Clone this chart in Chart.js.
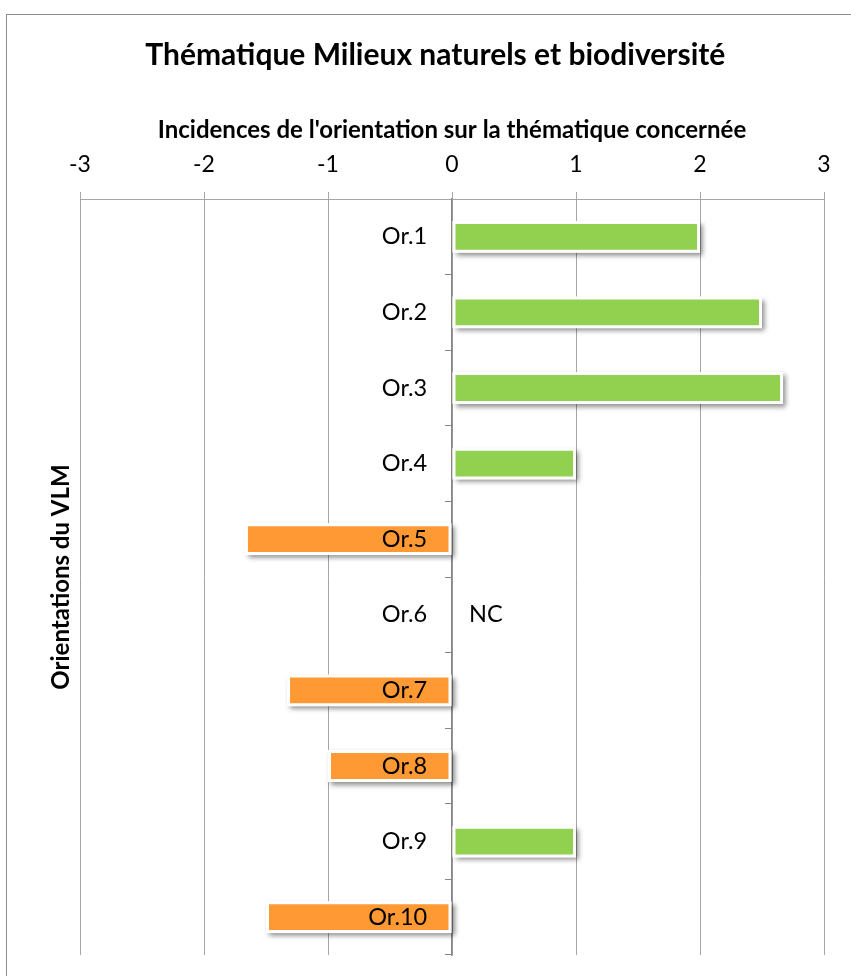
<!DOCTYPE html>
<html>
<head>
<meta charset="utf-8">
<script src="https://cdn.jsdelivr.net/npm/chart.js@4/dist/chart.umd.min.js"></script>
<style>
  html, body { margin: 0; padding: 0; background: #fff; }
  #wrap { position: relative; width: 851px; height: 976px; overflow: hidden; }
  #frame { position: absolute; left: 6px; top: 14px; width: 900px; height: 1000px;
           border-left: 1px solid #8c8c8c; border-top: 1px solid #8c8c8c; pointer-events: none; }
  canvas { position: absolute; left: 0; top: 0; }
</style>
</head>
<body>
<div id="wrap">
  <canvas id="c" width="851" height="976"></canvas>
  <div id="frame"></div>
</div>
<script>
const chartTitle = "Thématique Milieux naturels et biodiversité";
const xAxisTitle = "Incidences de l'orientation sur la thématique concernée";
const yAxisTitle = "Orientations du VLM";
const categories = ["Or.1", "Or.2", "Or.3", "Or.4", "Or.5", "Or.6", "Or.7", "Or.8", "Or.9", "Or.10"];
const scores = [2, 2.5, 2.67, 1, -1.67, null, -1.33, -1, 1, -1.5];
const notes = ["", "", "", "", "", "NC", "", "", "", ""];
const xMin = -3, xMax = 3, xStep = 1;
const labelAnchor = -0.2;   // category labels sit just left of the zero line

const GREEN = '#92D050', ORANGE = '#FF9933';
const FONT = 'Lato, "Open Sans", sans-serif';

const shadowPlugin = {
  id: 'barShadow',
  beforeDatasetsDraw(chart) {
    const ctx = chart.ctx;
    chart.data.datasets.forEach((ds, di) => {
      const meta = chart.getDatasetMeta(di);
      meta.data.forEach((el, i) => {
        if (ds.data[i] === null || ds.data[i] === undefined) return;
        const p = el.getProps(['x', 'y', 'base', 'height'], true);
        const left = Math.min(p.x, p.base), w = Math.abs(p.x - p.base);
        ctx.save();
        ctx.shadowColor = 'rgba(0,0,0,0.45)';
        ctx.shadowBlur = 5;
        ctx.shadowOffsetX = 3;
        ctx.shadowOffsetY = 3;
        ctx.fillStyle = '#fff';
        ctx.fillRect(left, p.y - p.height / 2, w, p.height);
        ctx.restore();
      });
    });
  }
};

const notePlugin = {
  id: 'notes',
  afterDatasetsDraw(chart) {
    const ctx = chart.ctx;
    const xs = chart.scales.x, ys = chart.scales.y;
    ctx.save();
    ctx.font = '23.5px ' + FONT;
    ctx.fillStyle = '#000';
    ctx.textAlign = 'left';
    ctx.textBaseline = 'middle';
    notes.forEach((n, i) => {
      if (!n) return;
      ctx.fillText(n, xs.getPixelForValue(0) + 17, ys.getPixelForValue(i));
    });
    ctx.restore();
  }
};

new Chart(document.getElementById('c'), {
  type: 'bar',
  data: {
    labels: categories,
    datasets: [{
      data: scores,
      yAxisID: 'y',
      xAxisID: 'x',
      backgroundColor: ctx => (ctx.raw !== null && ctx.raw < 0) ? ORANGE : GREEN,
      borderColor: '#ffffff',
      borderWidth: 3,
      borderSkipped: false,
      barPercentage: 0.42,
      categoryPercentage: 1
    }]
  },
  options: {
    indexAxis: 'y',
    responsive: false,
    animation: false,
    layout: { padding: { left: 46.6, right: 27, top: 0, bottom: 21 } },
    plugins: {
      legend: { display: false },
      tooltip: { enabled: false },
      title: {
        display: true,
        text: chartTitle,
        color: '#000',
        font: { family: FONT, size: 30, weight: 'bold' },
        padding: { top: 37, bottom: 51.4 }
      }
    },
    scales: {
      x: {
        position: 'top',
        min: xMin, max: xMax,
        ticks: { stepSize: xStep, color: '#000', font: { family: FONT, size: 23 }, padding: 14 },
        grid: { color: '#a6a6a6', lineWidth: 1, tickLength: 7, drawTicks: true },
        border: { color: '#a6a6a6', width: 1 },
        title: { display: true, text: xAxisTitle, color: '#000',
                 font: { family: FONT, size: 24, weight: 'bold', lineHeight: 0.5 }, padding: { top: 0, bottom: 0 } }
      },
      y: {
        position: { x: 0 },
        offset: true,
        ticks: { display: false, padding: 0 },
        grid: { display: true, drawOnChartArea: false, drawTicks: true, tickLength: 6, offset: true, color: '#868686' },
        border: { color: '#868686', width: 1.5 }
      },
      yl: {
        type: 'category',
        labels: categories,
        position: { x: labelAnchor },
        offset: true,
        ticks: { z: 1, color: '#000', font: { family: FONT, size: 23.5 }, padding: 0 },
        grid: { display: false, drawTicks: false },
        border: { display: false }
      },
      y2: {
        type: 'category',
        labels: categories,
        position: 'left',
        offset: true,
        ticks: { display: false },
        grid: { display: false, drawTicks: false },
        border: { display: false },
        title: { display: true, text: yAxisTitle, color: '#000',
                 font: { family: FONT, size: 24, weight: 'bold' }, padding: { top: 0, bottom: 4.6 } }
      }
    }
  },
  plugins: [shadowPlugin, notePlugin]
});
</script>
</body>
</html>
